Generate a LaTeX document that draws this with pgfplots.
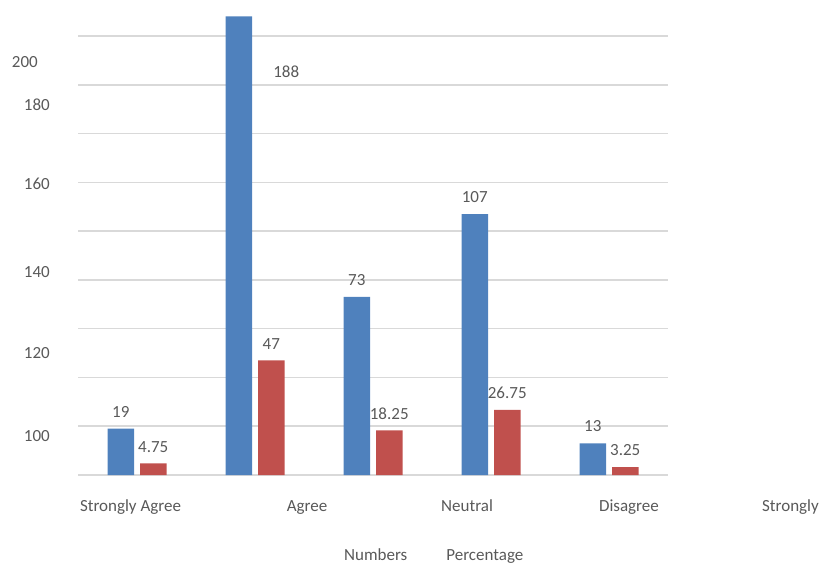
\documentclass[border=0pt]{standalone}
\usepackage{fontspec}
\setmainfont{Carlito}
\usepackage{pgfplots}
\pgfplotsset{compat=1.18}
\definecolor{barblue}{HTML}{4F81BD}
\definecolor{barred}{HTML}{C0504D}
\definecolor{txt}{HTML}{595959}
\definecolor{gridc}{HTML}{D9D9D9}
\newcommand{\lbl}{\fontsize{17bp}{20bp}\selectfont}
\begin{document}
\begin{tikzpicture}
\useasboundingbox (0,0) rectangle (819bp,565bp);
\begin{axis}[
  at={(78bp,90bp)}, anchor=south west,
  scale only axis, width=590bp, height=439bp,
  xmin=0, xmax=5, ymin=0, ymax=180,
  clip=false,
  axis line style={draw=none},
  major tick length=0pt,
  ybar=6bp, bar width=26.5bp,
  xtick={0.445,1.941,3.297,4.669},
  xticklabels={Strongly Agree,Agree,Neutral,Disagree},
  ytick={16.0,50.0,83.2,119.3,151.7,169.3},
  yticklabels={100,120,140,160,180,{200\rule{12bp}{0pt}}},
  extra y ticks={0,20,40,60,80,100,120,140,160,180},
  extra y tick labels={},
  extra y tick style={grid=major, major grid style={draw=gridc, line width=1.5bp}},
  xticklabel style={anchor=base, inner sep=0pt, yshift=-36bp, font=\lbl, text=txt},
  yticklabel style={anchor=east, inner sep=0pt, xshift=-28bp, font=\lbl, text=txt},
  /pgf/number format/fixed, /pgf/number format/precision=2,
  /pgf/number format/assume math mode=true,
  nodes near coords,
  nodes near coords style={font=\lbl, text=txt, anchor=south, inner sep=0pt, yshift=11bp},
  legend style={draw=none, fill=none, at={(axis description cs:0.4475,-0.2035)},
    anchor=south west, legend columns=2, font=\lbl, text=txt, inner sep=0pt,
    /tikz/every even column/.append style={column sep=35bp}},
  legend image code/.code={},
]
\addplot[fill=barblue, draw=none,
  coordinate style/.condition={\coordindex==1}{xshift=47.5bp, yshift=-72bp}]
  coordinates {(0.5,19) (1.5,188) (2.5,73) (3.5,107) (4.5,13)};
\addplot[fill=barred, draw=none]
  coordinates {(0.5,4.75) (1.5,47) (2.5,18.25) (3.5,26.75) (4.5,3.25)};
\legend{Numbers,Percentage}
\node[font=\lbl, text=txt, anchor=base, inner sep=0pt, yshift=-36bp] at (axis cs:6.038,0) {Strongly};
\end{axis}
\end{tikzpicture}
\end{document}
